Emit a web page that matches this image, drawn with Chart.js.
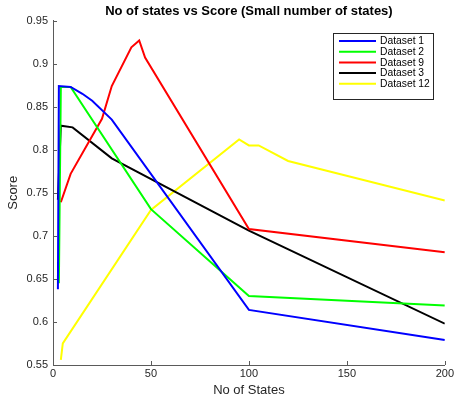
<!DOCTYPE html>
<html>
<head>
<meta charset="utf-8">
<script src="https://cdn.jsdelivr.net/npm/chart.js@4/dist/chart.umd.min.js"></script>
<style>
    html, body { margin: 0; padding: 0; background: #fff; }
    #wrap { width: 456px; height: 403px; }
</style>
</head>
<body>
<div id="wrap"><canvas id="grafico"></canvas></div>
<script>
// valores
const serieNomes = ['Dataset 1', 'Dataset 2', 'Dataset 9', 'Dataset 3', 'Dataset 12'];
const serieCores = ['#0000ff', '#00ff00', '#ff0000', '#000000', '#ffff00'];

const ds1X = [2.5, 3, 9, 15, 20, 30, 100, 200];
const ds1Y = [0.638, 0.874, 0.873, 0.865, 0.857, 0.835, 0.614, 0.579];

const ds2X = [3, 4, 9, 50, 100, 200];
const ds2Y = [0.645, 0.873, 0.873, 0.731, 0.630, 0.619];

const ds9X = [4, 9, 25, 30, 40, 44, 47, 100, 200];
const ds9Y = [0.739, 0.772, 0.836, 0.874, 0.919, 0.927, 0.907, 0.708, 0.681];

const ds3X = [2.5, 4, 10, 30, 100, 200];
const ds3Y = [0.742, 0.828, 0.826, 0.790, 0.706, 0.598];

const ds12X = [4, 5, 50, 95, 100, 105, 120, 200];
const ds12Y = [0.556, 0.575, 0.730, 0.812, 0.805, 0.805, 0.787, 0.741];

const xTicks = [0, 50, 100, 150, 200];
const yTicks = [0.55, 0.6, 0.65, 0.7, 0.75, 0.8, 0.85, 0.9, 0.95];

const fonte = "'Liberation Sans', Arial, sans-serif";
const corEixo = '#5a5a5a';

function pontos(xs, ys) {
    return xs.map((x, i) => ({ x: x, y: ys[i] }));
}

const todasSeries = [
    pontos(ds1X, ds1Y),
    pontos(ds2X, ds2Y),
    pontos(ds9X, ds9Y),
    pontos(ds3X, ds3Y),
    pontos(ds12X, ds12Y)
];

// marcas de escala para dentro (estilo matlab)
const ticksInternos = {
    id: 'ticksInternos',
    afterDraw(chart) {
        const ctx = chart.ctx;
        const area = chart.chartArea;
        const sx = chart.scales.x;
        const sy = chart.scales.y;
        ctx.save();
        ctx.strokeStyle = corEixo;
        ctx.lineWidth = 1;
        ctx.beginPath();
        xTicks.forEach(v => {
            const px = Math.round(sx.getPixelForValue(v)) + 0.5;
            ctx.moveTo(px, area.bottom);
            ctx.lineTo(px, area.bottom - 4);
        });
        yTicks.forEach(v => {
            const py = Math.round(sy.getPixelForValue(v)) + 0.5;
            ctx.moveTo(area.left, py);
            ctx.lineTo(area.left + 4, py);
        });
        ctx.stroke();
        ctx.restore();
    }
};

// legenda em caixa no canto superior direito
const legendaCaixa = {
    id: 'legendaCaixa',
    afterDatasetsDraw(chart) {
        const ctx = chart.ctx;
        const x0 = 333.5, y0 = 33.5, w = 100, h = 66;
        ctx.save();
        ctx.fillStyle = '#ffffff';
        ctx.fillRect(x0, y0, w, h);
        ctx.strokeStyle = '#262626';
        ctx.lineWidth = 1;
        ctx.strokeRect(x0, y0, w, h);
        ctx.font = '10.3px ' + fonte;
        ctx.textBaseline = 'middle';
        ctx.textAlign = 'left';
        chart.data.datasets.forEach((ds, i) => {
            const y = 41 + i * 10.7;
            ctx.strokeStyle = ds.borderColor;
            ctx.lineWidth = 2;
            ctx.beginPath();
            ctx.moveTo(339, y);
            ctx.lineTo(376, y);
            ctx.stroke();
            ctx.fillStyle = '#000000';
            ctx.fillText(ds.label, 380, y + 0.5);
        });
        ctx.restore();
    }
};

const ctx = document.getElementById('grafico').getContext('2d');

new Chart(ctx, {
    type: 'line',
    data: {
        datasets: todasSeries.map((dados, i) => ({
            label: serieNomes[i],
            data: dados,
            borderColor: serieCores[i],
            backgroundColor: serieCores[i],
            borderWidth: 2,
            pointRadius: 0,
            tension: 0,
            fill: false
        }))
    },
    options: {
        responsive: true,
        maintainAspectRatio: false,
        animation: false,
        layout: { padding: { left: 0, right: 10, top: 0, bottom: 0 } },
        plugins: {
            legend: { display: false },
            tooltip: { enabled: false },
            title: {
                display: true,
                fullSize: false,
                text: 'No of states vs Score (Small number of states)',
                color: '#000000',
                font: { family: fonte, size: 13, weight: 'bold' },
                padding: { top: 4, bottom: 1 }
            }
        },
        scales: {
            x: {
                type: 'linear',
                min: 0,
                max: 200,
                afterFit(scale) { scale.height = 38; },
                afterBuildTicks(scale) { scale.ticks = xTicks.map(v => ({ value: v })); },
                grid: { drawOnChartArea: false, drawTicks: false },
                border: { display: true, color: corEixo, width: 1 },
                ticks: {
                    padding: 2,
                    color: '#262626',
                    maxRotation: 0,
                    font: { family: fonte, size: 11 }
                },
                title: {
                    display: true,
                    text: 'No of States',
                    color: '#262626',
                    font: { family: fonte, size: 13 },
                    padding: { top: 0, bottom: 5 }
                }
            },
            y: {
                type: 'linear',
                min: 0.55,
                max: 0.95,
                afterFit(scale) { scale.width = 53; },
                afterBuildTicks(scale) { scale.ticks = yTicks.map(v => ({ value: v })); },
                grid: { drawOnChartArea: false, drawTicks: false },
                border: { display: true, color: corEixo, width: 1 },
                ticks: {
                    padding: 5,
                    color: '#262626',
                    font: { family: fonte, size: 11 },
                    callback: function (value) {
                        return String(parseFloat(value.toFixed(2)));
                    }
                },
                title: {
                    display: true,
                    text: 'Score',
                    color: '#262626',
                    font: { family: fonte, size: 13 },
                    padding: { top: 6, bottom: 0 }
                }
            }
        }
    },
    plugins: [ticksInternos, legendaCaixa]
});
</script>
</body>
</html>
